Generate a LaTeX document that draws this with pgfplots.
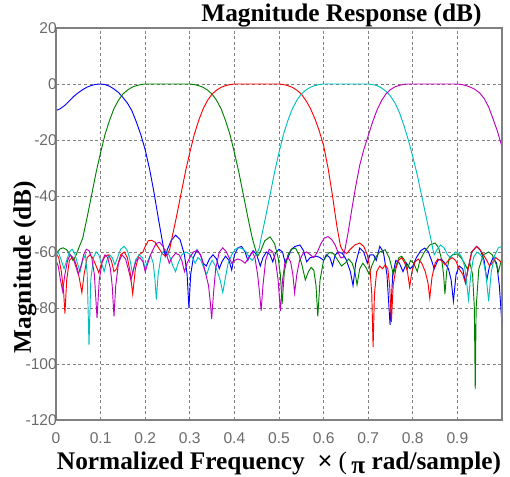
\documentclass[border=0pt]{standalone}
\usepackage{fontspec}
\setmainfont{Liberation Serif}
\newfontfamily\arialfont{Liberation Sans}
\usepackage{pgfplots}
\pgfplotsset{compat=1.18}
\usetikzlibrary{calc}
\definecolor{mblue}{rgb}{0,0,1}
\definecolor{mgreen}{rgb}{0,0.5,0}
\definecolor{mred}{rgb}{1,0,0}
\definecolor{mcyan}{rgb}{0,0.75,0.75}
\definecolor{mmag}{rgb}{0.75,0,0.75}
\definecolor{tickgray}{gray}{0.42}
\definecolor{framegray}{gray}{0.5}
\begin{document}
\begin{tikzpicture}
\begin{axis}[
  scale only axis,
  width=334.5pt, height=294pt,
  xmin=0, xmax=1, ymin=-120, ymax=20,
  xtick={0,0.1,0.2,0.3,0.4,0.5,0.6,0.7,0.8,0.9},
  xticklabels={0,0.1,0.2,0.3,0.4,0.5,0.6,0.7,0.8,0.9},
  ytick={-120,-100,-80,-60,-40,-20,0,20},
  yticklabels={-120,-100,-80,-60,-40,-20,0,20},
  major tick length=0pt,
  grid=major,
  major grid style={framegray, line width=0.6pt, dash pattern=on 2.2pt off 2pt},
  axis line style={framegray, line width=1.1pt},
  ticklabel style={font=\arialfont\fontsize{11.7}{13}\selectfont, text=tickgray},
  yticklabel style={anchor=east, inner sep=0pt, xshift=0.8pt},
  xticklabel style={anchor=north, inner sep=0pt, yshift=-9pt},
  title={Magnitude Response (dB)},
  title style={font=\bfseries\fontsize{19}{22}\selectfont, at={(axis description cs:0.64,1)}, anchor=base, yshift=-1pt, inner sep=0pt},
  xlabel={Normalized Frequency\ \ {\mdseries\arialfont ×} {\mdseries (}\,\raisebox{-3pt}{π} rad/sample)},
  xlabel style={font=\bfseries\fontsize{19}{22}\selectfont, at={(axis description cs:0.5,0)}, anchor=base, yshift=-37pt, inner sep=0pt},
  ylabel={Magnitude (dB)},
  ylabel style={font=\bfseries\fontsize{19}{22}\selectfont, at={(axis description cs:-0.0695,0.39)}, anchor=center, inner sep=0pt},
  every axis plot/.append style={line width=0.7pt},
]
\coordinate (bl) at (rel axis cs:0,0);
\coordinate (tr) at (rel axis cs:1,1);
% blue
\addplot[mblue] coordinates {(0,-9.5)(0.01,-8.8)(0.02,-7.6)(0.03,-6.0)(0.04,-4.4)(0.05,-3.1)(0.06,-2.0)(0.07,-1.1)(0.08,-0.5)(0.09,-0.1)(0.1,0)(0.11,-0.2)(0.12,-0.8)(0.13,-1.8)(0.14,-3.0)(0.15,-4.8)(0.16,-6.8)(0.17,-9.5)(0.18,-13.5)(0.19,-18)(0.2,-23.5)(0.21,-30.5)(0.22,-39)(0.23,-48.5)(0.24,-57.5)(0.245,-61.5)(0.25,-59)(0.258,-56)(0.268,-54)(0.278,-55.5)(0.288,-61)(0.294,-68)(0.298,-80)(0.302,-68)(0.308,-62)(0.316,-59.2)(0.324,-61)(0.33,-64)(0.337,-65)(0.344,-62.5)(0.352,-61)(0.36,-62.5)(0.366,-66)(0.372,-63.5)(0.38,-61.5)(0.388,-63)(0.394,-66.5)(0.4,-61)(0.408,-58.5)(0.416,-58)(0.424,-60)(0.43,-63)(0.436,-61)(0.442,-59.5)(0.45,-61)(0.458,-65)(0.464,-62)(0.472,-60)(0.48,-61)(0.486,-63.5)(0.492,-60.5)(0.5,-59)(0.508,-60)(0.514,-64)(0.52,-62)(0.528,-59)(0.536,-58)(0.547,-57.5)(0.555,-59.5)(0.562,-63.5)(0.57,-62)(0.576,-61.8)(0.584,-61.5)(0.592,-62)(0.6,-63)(0.606,-61)(0.614,-62)(0.62,-65)(0.626,-61)(0.634,-60)(0.642,-60.5)(0.65,-62.5)(0.66,-67)(0.666,-72)(0.672,-64)(0.681,-58.6)(0.69,-60)(0.698,-64)(0.704,-61)(0.712,-61)(0.718,-63)(0.726,-58)(0.734,-60)(0.742,-68)(0.749,-86)(0.755,-68)(0.762,-63)(0.77,-64)(0.778,-67)(0.786,-64)(0.794,-66)(0.8,-65)(0.808,-62)(0.818,-59.5)(0.827,-58.6)(0.835,-60)(0.842,-63)(0.848,-66)(0.856,-63)(0.864,-62.5)(0.872,-64)(0.88,-66)(0.886,-70)(0.891,-77.6)(0.897,-68)(0.904,-65)(0.912,-66)(0.918,-71)(0.924,-66)(0.932,-60)(0.943,-58)(0.952,-59.5)(0.96,-63)(0.966,-70)(0.972,-65)(0.98,-62)(0.988,-64)(0.994,-72)(1.0,-86)};
% green
\addplot[mgreen] coordinates {(0,-61)(0.008,-59)(0.016,-58.5)(0.024,-59.2)(0.032,-61)(0.038,-63)(0.044,-61.5)(0.05,-59)(0.06,-55)(0.07,-47.5)(0.08,-39.5)(0.09,-31.5)(0.1,-24.5)(0.11,-18)(0.12,-13)(0.13,-8.8)(0.14,-5.8)(0.15,-3.6)(0.16,-2.2)(0.17,-1.2)(0.18,-0.6)(0.19,-0.2)(0.2,0)(0.25,0)(0.3,0)(0.31,-0.2)(0.32,-0.6)(0.33,-1.2)(0.34,-2.2)(0.35,-3.6)(0.36,-5.8)(0.37,-8.8)(0.38,-13)(0.39,-18)(0.4,-24.5)(0.41,-31.5)(0.42,-39.5)(0.43,-47.5)(0.44,-55)(0.447,-59)(0.452,-61.5)(0.458,-60)(0.468,-56)(0.48,-54.6)(0.49,-57)(0.498,-62)(0.503,-68)(0.507,-78.5)(0.512,-67)(0.52,-61)(0.528,-59)(0.537,-58.6)(0.545,-61)(0.552,-65)(0.559,-70)(0.566,-67)(0.572,-65.5)(0.578,-66.5)(0.583,-72)(0.587,-83)(0.592,-70)(0.6,-63)(0.612,-60.2)(0.622,-60.5)(0.632,-63)(0.64,-65)(0.648,-64)(0.656,-62.5)(0.664,-64)(0.67,-67)(0.675,-71.7)(0.681,-66)(0.688,-64)(0.695,-65.5)(0.702,-68)(0.708,-65)(0.716,-62)(0.726,-60)(0.738,-59.2)(0.747,-62)(0.752,-65)(0.756,-68)(0.762,-65)(0.769,-62)(0.775,-61.5)(0.782,-63)(0.788,-66)(0.795,-63)(0.802,-64)(0.81,-67)(0.816,-63)(0.826,-60)(0.838,-57.5)(0.85,-56.8)(0.858,-58.5)(0.865,-63)(0.869,-68)(0.872,-75)(0.876,-67)(0.882,-62)(0.89,-61)(0.9,-60.7)(0.908,-62)(0.916,-64)(0.922,-66)(0.928,-64)(0.934,-68)(0.938,-80)(0.94,-109)(0.942,-80)(0.948,-66)(0.958,-61)(0.97,-60)(0.978,-61)(0.986,-64)(0.992,-67)(1.0,-62)};
% red
\addplot[mred] coordinates {(0,-60.5)(0.006,-62)(0.012,-67)(0.017,-74)(0.02,-82)(0.024,-70)(0.03,-63)(0.036,-62)(0.042,-63)(0.048,-66)(0.053,-70)(0.058,-74.5)(0.063,-68)(0.07,-62)(0.076,-61)(0.082,-62)(0.09,-65)(0.096,-67.4)(0.102,-64)(0.11,-61.5)(0.117,-61)(0.124,-63)(0.13,-67)(0.136,-66)(0.145,-61)(0.153,-60)(0.16,-62)(0.166,-67)(0.172,-75)(0.178,-66)(0.186,-61)(0.195,-60)(0.2,-58)(0.207,-56)(0.214,-55.8)(0.222,-56.5)(0.23,-58.5)(0.238,-60.5)(0.245,-61.5)(0.25,-61)(0.255,-59)(0.26,-55)(0.27,-47.5)(0.28,-39.5)(0.29,-31.5)(0.3,-24.5)(0.31,-18)(0.32,-13)(0.33,-8.8)(0.34,-5.8)(0.35,-3.6)(0.36,-2.2)(0.37,-1.2)(0.38,-0.6)(0.39,-0.2)(0.4,0)(0.45,0)(0.5,0)(0.51,-0.2)(0.52,-0.6)(0.53,-1.2)(0.54,-2.2)(0.55,-3.6)(0.56,-5.8)(0.57,-8.6)(0.58,-12.2)(0.59,-16.6)(0.6,-22)(0.61,-30)(0.62,-40)(0.63,-51)(0.638,-58)(0.645,-60)(0.652,-60.5)(0.66,-59)(0.67,-57.5)(0.681,-56.8)(0.69,-58)(0.698,-61)(0.704,-66)(0.708,-75)(0.711,-94)(0.714,-75)(0.719,-67)(0.726,-65)(0.732,-66)(0.738,-64.6)(0.744,-66)(0.748,-72)(0.752,-85)(0.756,-72)(0.762,-66)(0.768,-63)(0.775,-62)(0.782,-64)(0.788,-67)(0.793,-72.5)(0.798,-67)(0.805,-63.5)(0.812,-62.5)(0.82,-64)(0.828,-67)(0.834,-71)(0.838,-76.5)(0.843,-69)(0.85,-64)(0.856,-62.5)(0.864,-63)(0.872,-64.5)(0.88,-63)(0.888,-62)(0.896,-63)(0.904,-66)(0.912,-68)(0.918,-71)(0.924,-66)(0.932,-60)(0.943,-58)(0.95,-59)(0.958,-61)(0.966,-63)(0.972,-65)(0.978,-64)(0.986,-62)(0.994,-63)(1.0,-64)};
% cyan
\addplot[mcyan] coordinates {(0,-59)(0.006,-60.5)(0.012,-63)(0.018,-66)(0.024,-63)(0.03,-60)(0.036,-59)(0.042,-60.5)(0.048,-64)(0.054,-67)(0.06,-63)(0.066,-61)(0.07,-68)(0.074,-93.3)(0.078,-70)(0.084,-62)(0.09,-60)(0.096,-61)(0.102,-64)(0.108,-67)(0.114,-63)(0.12,-61)(0.126,-62)(0.132,-64.5)(0.138,-62)(0.145,-59)(0.153,-58)(0.16,-59.5)(0.166,-63)(0.172,-68)(0.178,-63)(0.186,-61)(0.194,-62)(0.2,-66)(0.206,-63)(0.212,-61)(0.218,-64)(0.222,-70)(0.225,-77)(0.229,-68)(0.236,-61)(0.244,-59)(0.25,-60)(0.256,-62)(0.262,-65)(0.268,-67)(0.274,-64)(0.282,-61)(0.29,-60)(0.298,-60.5)(0.306,-62)(0.312,-64)(0.318,-62)(0.325,-63)(0.332,-66)(0.338,-68)(0.344,-65)(0.35,-63)(0.356,-64.5)(0.362,-67)(0.368,-70)(0.374,-74.5)(0.38,-69)(0.386,-64)(0.394,-61)(0.402,-59)(0.41,-58.5)(0.418,-58.8)(0.426,-60)(0.434,-62)(0.44,-63)(0.446,-61.5)(0.452,-60)(0.456,-58.5)(0.46,-55)(0.47,-47.5)(0.48,-39.5)(0.49,-31.5)(0.5,-24.5)(0.51,-18)(0.52,-13)(0.53,-8.8)(0.54,-5.8)(0.55,-3.6)(0.56,-2.2)(0.57,-1.2)(0.58,-0.6)(0.59,-0.2)(0.6,0)(0.65,0)(0.7,0)(0.71,-0.2)(0.72,-0.6)(0.73,-1.4)(0.74,-2.6)(0.75,-4.3)(0.76,-6.8)(0.77,-10.2)(0.78,-14.8)(0.79,-20)(0.8,-26)(0.81,-32.5)(0.82,-40)(0.83,-47.5)(0.84,-55)(0.845,-59)(0.848,-61)(0.855,-59)(0.862,-57.5)(0.87,-58.5)(0.878,-61)(0.884,-62)(0.89,-61)(0.896,-60)(0.904,-60.5)(0.91,-62)(0.916,-65)(0.92,-70)(0.925,-77)(0.93,-68)(0.936,-62)(0.944,-60)(0.952,-61)(0.958,-63)(0.964,-68)(0.97,-77.6)(0.976,-67)(0.984,-61)(0.992,-58.5)(1.0,-58)};
% magenta
\addplot[mmag] coordinates {(0,-63)(0.005,-65)(0.01,-70)(0.015,-74)(0.02,-68)(0.026,-63)(0.032,-61)(0.038,-62)(0.044,-65)(0.05,-68)(0.056,-65)(0.062,-61)(0.068,-59)(0.074,-59.5)(0.08,-62)(0.086,-68)(0.092,-83.6)(0.097,-70)(0.104,-63)(0.11,-61)(0.116,-62)(0.122,-66)(0.126,-72)(0.13,-83)(0.134,-72)(0.14,-64)(0.148,-61)(0.156,-62.5)(0.162,-66)(0.168,-70)(0.174,-66)(0.18,-63)(0.188,-62)(0.195,-63.5)(0.2,-67)(0.206,-64)(0.212,-61)(0.218,-59)(0.224,-57)(0.232,-56.5)(0.24,-58)(0.248,-61)(0.254,-64)(0.26,-62)(0.268,-60.5)(0.276,-61)(0.282,-63)(0.288,-67)(0.294,-64)(0.3,-62)(0.308,-60)(0.316,-59.5)(0.324,-61)(0.33,-64)(0.336,-68)(0.342,-72)(0.346,-78)(0.349,-84)(0.353,-75)(0.358,-66)(0.366,-60)(0.374,-58.5)(0.382,-60)(0.388,-62)(0.394,-64)(0.4,-63)(0.408,-62.5)(0.416,-63)(0.424,-64)(0.432,-62)(0.44,-60)(0.446,-62)(0.452,-68)(0.456,-74)(0.46,-81)(0.464,-72)(0.47,-63)(0.478,-59)(0.486,-60)(0.492,-63)(0.498,-70)(0.503,-81)(0.508,-70)(0.514,-63)(0.52,-62)(0.526,-63.5)(0.531,-68)(0.535,-74.6)(0.54,-68)(0.546,-63)(0.554,-60.5)(0.562,-60)(0.57,-61)(0.578,-62)(0.586,-60)(0.594,-57)(0.602,-55)(0.61,-54.5)(0.618,-55.5)(0.626,-57.5)(0.632,-60)(0.638,-62)(0.644,-62)(0.648,-59)(0.655,-53)(0.663,-45)(0.672,-36.5)(0.681,-29)(0.69,-23.5)(0.7,-18.5)(0.71,-13.5)(0.72,-9.2)(0.73,-5.9)(0.74,-3.5)(0.75,-2)(0.76,-1)(0.77,-0.5)(0.78,-0.1)(0.79,0)(0.8,0)(0.85,0)(0.9,0)(0.91,-0.2)(0.92,-0.6)(0.93,-1.2)(0.94,-2)(0.95,-3.2)(0.96,-5.2)(0.97,-8.2)(0.98,-12.5)(0.99,-17)(1.0,-22.5)};
\draw[framegray, line width=2.2pt] (rel axis cs:1,0) -- (rel axis cs:1,1);
\draw[framegray, line width=1.6pt] (rel axis cs:0,0) -- (rel axis cs:0,1);
\end{axis}
\pgfresetboundingbox
\path ($(bl)+(-42pt,-42.75pt)$) rectangle ($(tr)+(6pt,21pt)$);
\end{tikzpicture}
\end{document}
